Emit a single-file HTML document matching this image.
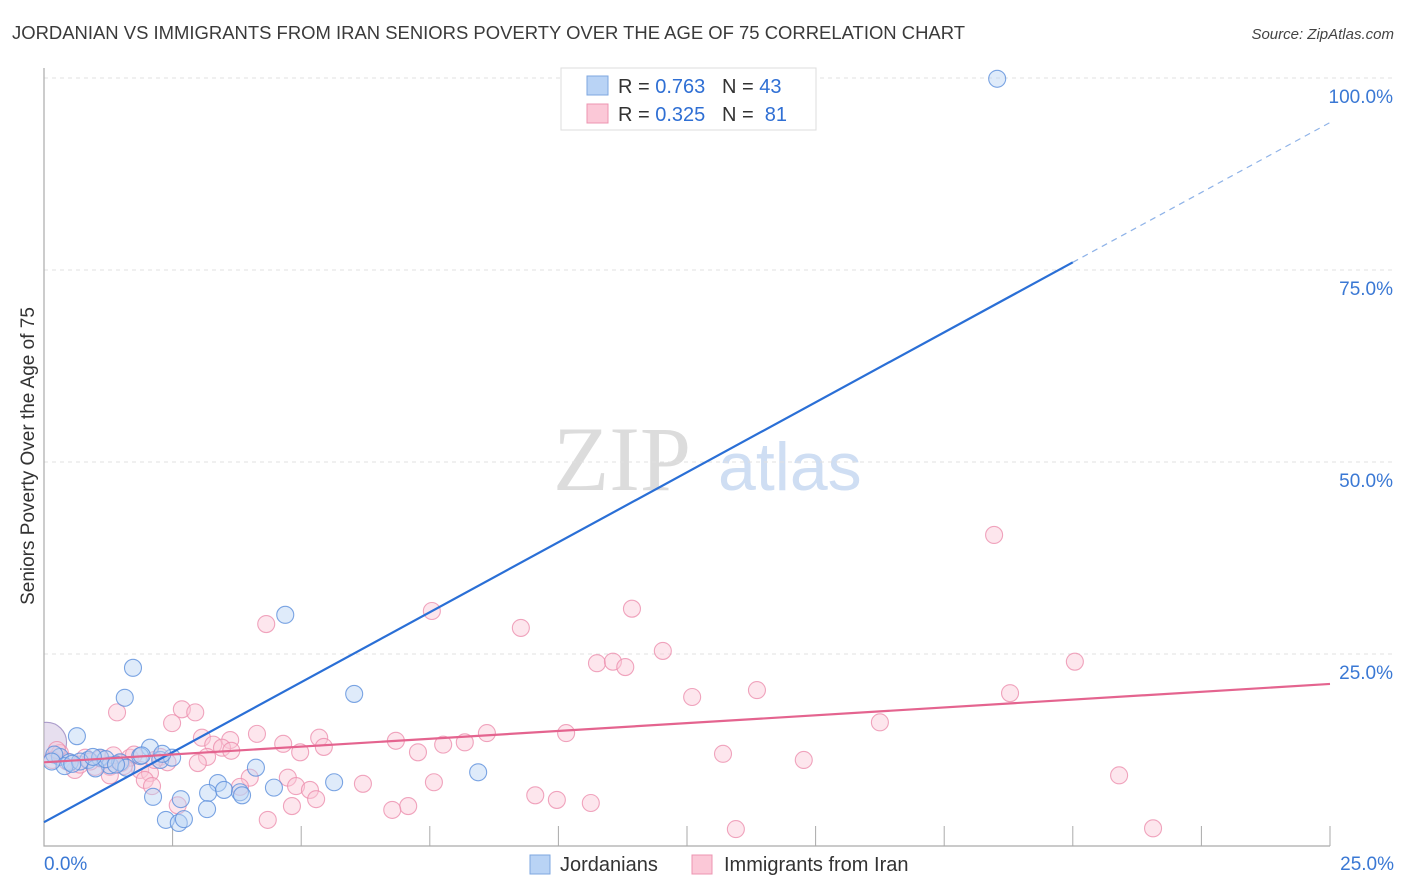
<!DOCTYPE html>
<html><head><meta charset="utf-8"><style>
body{margin:0;background:#fff;font-family:"Liberation Sans",sans-serif;}
svg{display:block}
text{white-space:pre}
</style></head><body>
<svg id="chart" width="1406" height="892" xmlns="http://www.w3.org/2000/svg" font-family="Liberation Sans, sans-serif" xml:space="preserve">
<defs><clipPath id="plotclip"><rect x="44" y="60" width="1300" height="786"/></clipPath></defs>
<text x="12" y="39" font-size="18" fill="#3a3a3a" textLength="953" lengthAdjust="spacingAndGlyphs">JORDANIAN VS IMMIGRANTS FROM IRAN SENIORS POVERTY OVER THE AGE OF 75 CORRELATION CHART</text>
<text x="1394" y="39" font-size="15" fill="#444" font-style="italic" text-anchor="end">Source: ZipAtlas.com</text>
<g>
<text x="553" y="490" font-size="92" fill="#dcdcdc" font-family="Liberation Serif, serif">ZIP</text>
<text x="718" y="490" font-size="68" fill="#cfdef3">atlas</text>
</g>
<g id="grid"></g><g id="axes"></g><g id="pts" clip-path="url(#plotclip)"></g><g id="lines"></g>
<text transform="translate(34,456) rotate(-90)" font-size="19" fill="#333" text-anchor="middle">Seniors Poverty Over the Age of 75</text>
<g>
<rect x="561" y="68" width="255" height="62" fill="#fff" stroke="#ddd"/>
<rect x="587" y="76" width="21" height="19" fill="#b9d3f5" stroke="#7ea7e0"/>
<text x="618" y="93" font-size="20" fill="#333">R = <tspan fill="#2f6fd4">0.763</tspan>   N = <tspan fill="#2f6fd4">43</tspan></text>
<rect x="587" y="104" width="21" height="19" fill="#fbc8d7" stroke="#ec94b0"/>
<text x="618" y="121" font-size="20" fill="#333">R = <tspan fill="#2f6fd4">0.325</tspan>   N =  <tspan fill="#2f6fd4">81</tspan></text>
</g>
<g>
<rect x="530" y="855" width="20" height="19" fill="#b9d3f5" stroke="#7ea7e0"/>
<text x="560" y="871" font-size="20" fill="#333">Jordanians</text></g>
<g>
<rect x="692" y="855" width="20" height="19" fill="#fbc8d7" stroke="#ec94b0"/>
<text x="724" y="871" font-size="20" fill="#333">Immigrants from Iran</text></g>
</svg>
<script>
const yTicks=[25,50,75,100];
const yTickLabels=["25.0%","50.0%","75.0%","100.0%"];
const xTicks=[2.5,5,7.5,10,12.5,15,17.5,20,22.5,25];
const blueX=[18.53,4.69,1.73,1.57,6.03,0.64,2.06,0.31,0.5,0.86,1.09,1.28,1.48,1.87,2.26,2.49,4.12,8.44,5.64,3.38,3.19,3.5,3.81,3.85,4.47,2.12,2.66,2.37,2.62,2.72,3.17,0.2,0.4,0.7,1.0,1.2,1.6,1.9,0.15,0.95,1.4,2.3,0.55];
const blueY=[99.9,30.1,23.2,19.3,19.8,14.3,12.8,11.6,10.9,11.2,11.5,10.5,10.9,11.7,11.2,11.5,10.2,9.6,8.3,8.2,6.9,7.3,7.0,6.6,7.6,6.4,6.1,3.4,3.0,3.5,4.8,11.9,10.4,11.0,10.1,11.3,10.2,11.8,11.0,11.6,10.6,12.0,10.7];
const pinkX=[18.47,7.54,11.43,4.32,9.27,10.75,11.06,11.3,12.03,20.04,13.86,12.6,18.78,1.42,2.68,2.94,2.49,16.25,4.14,8.61,10.15,5.35,3.07,3.62,6.84,8.18,7.76,4.65,5.44,3.29,3.46,3.64,4.98,7.27,3.17,13.2,14.77,2.99,2.26,1.67,0.31,0.16,0.8,0.99,1.28,0.6,1.87,2.06,1.28,20.9,4.74,4.0,1.96,2.1,4.9,5.17,6.2,7.58,3.81,9.55,9.97,10.63,5.29,4.82,2.6,7.08,6.77,4.35,13.45,21.56,0.45,0.7,1.1,1.5,1.75,2.4,0.25,0.9,1.55,2.15,1.35];
const pinkY=[40.5,30.6,30.9,28.9,28.4,23.8,24.0,23.3,25.4,24.0,20.3,19.4,19.9,17.4,17.8,17.4,16.0,16.1,14.6,14.7,14.7,14.1,14.1,13.8,13.7,13.5,13.2,13.3,12.9,13.2,12.8,12.4,12.2,12.2,11.6,12.0,11.2,10.8,11.6,11.5,12.1,11.2,11.5,10.3,10.3,9.9,9.9,9.5,9.2,9.2,8.9,8.9,8.6,7.8,7.8,7.3,8.1,8.3,7.7,6.6,6.0,5.6,6.1,5.2,5.3,5.2,4.7,3.4,2.2,2.3,11.0,10.6,11.4,10.8,11.9,10.9,12.5,11.0,10.4,11.2,11.8];
const bigX=[0.05], bigY=[13.5];
const blueLine=[0,3.1,20,76.0,25,94.2];
const pinkLine=[0,10.9,25,21.1];
const NS="http://www.w3.org/2000/svg";
const X=v=>44+v/25*1286, Y=v=>846-v/100*768;
function mk(t,a,p){const e=document.createElementNS(NS,t);for(const k in a)e.setAttribute(k,a[k]);p.appendChild(e);return e;}
const grid=document.getElementById('grid'),axes=document.getElementById('axes'),pts=document.getElementById('pts'),lines=document.getElementById('lines');
yTicks.forEach((v,i)=>{
 const g=mk('line',{x1:44,x2:1394,y1:Y(v),y2:Y(v),stroke:'#e0e0e0','stroke-dasharray':'4,4'},grid);
 
 
 const t=mk('text',{x:1393,y:Y(v)+25,'font-size':19,fill:'#3a78d4','text-anchor':'end'},axes);
 t.textContent=yTickLabels[i];
 
 
});
const ax=mk('path',{d:'M44,68 V846 H1330',fill:'none',stroke:'#aaa','stroke-width':1.2},axes);


xTicks.forEach(v=>{const l=mk('line',{x1:X(v),x2:X(v),y1:826,y2:846,stroke:'#aaa'},axes);
 
 });
const x0=mk('text',{x:44,y:870,'font-size':19,fill:'#3a78d4'},axes);x0.textContent='0.0%';


const x1=mk('text',{x:1394,y:870,'font-size':19,fill:'#3a78d4','text-anchor':'end'},axes);x1.textContent='25.0%';


function dots(xs,ys,fill,stroke,name,r){xs.forEach((v,i)=>{const c=mk('circle',{cx:X(v),cy:Y(ys[i]),r:r,fill:fill,'fill-opacity':0.45,stroke:stroke,'stroke-opacity':0.8,'stroke-width':1.1},pts);
 
 });}
dots(bigX,bigY,'#c9b8dc','#9a88c0','point-large',20);
dots(pinkX,pinkY,'#fbc8d7','#ec8fae','point-iran',8.5);
dots(blueX,blueY,'#b9d3f5','#5b8fdc','point-jordanian',8.5);
const bl=mk('line',{x1:X(blueLine[0]),y1:Y(blueLine[1]),x2:X(blueLine[2]),y2:Y(blueLine[3]),stroke:'#2a6fd6','stroke-width':2.2},lines);


const bd=mk('line',{x1:X(blueLine[2]),y1:Y(blueLine[3]),x2:X(blueLine[4]),y2:Y(blueLine[5]),stroke:'#8fb3e8','stroke-width':1.2,'stroke-dasharray':'6,5'},lines);


const pl=mk('line',{x1:X(pinkLine[0]),y1:Y(pinkLine[1]),x2:X(pinkLine[2]),y2:Y(pinkLine[3]),stroke:'#e4648f','stroke-width':2.2},lines);


</script>
</body></html>
